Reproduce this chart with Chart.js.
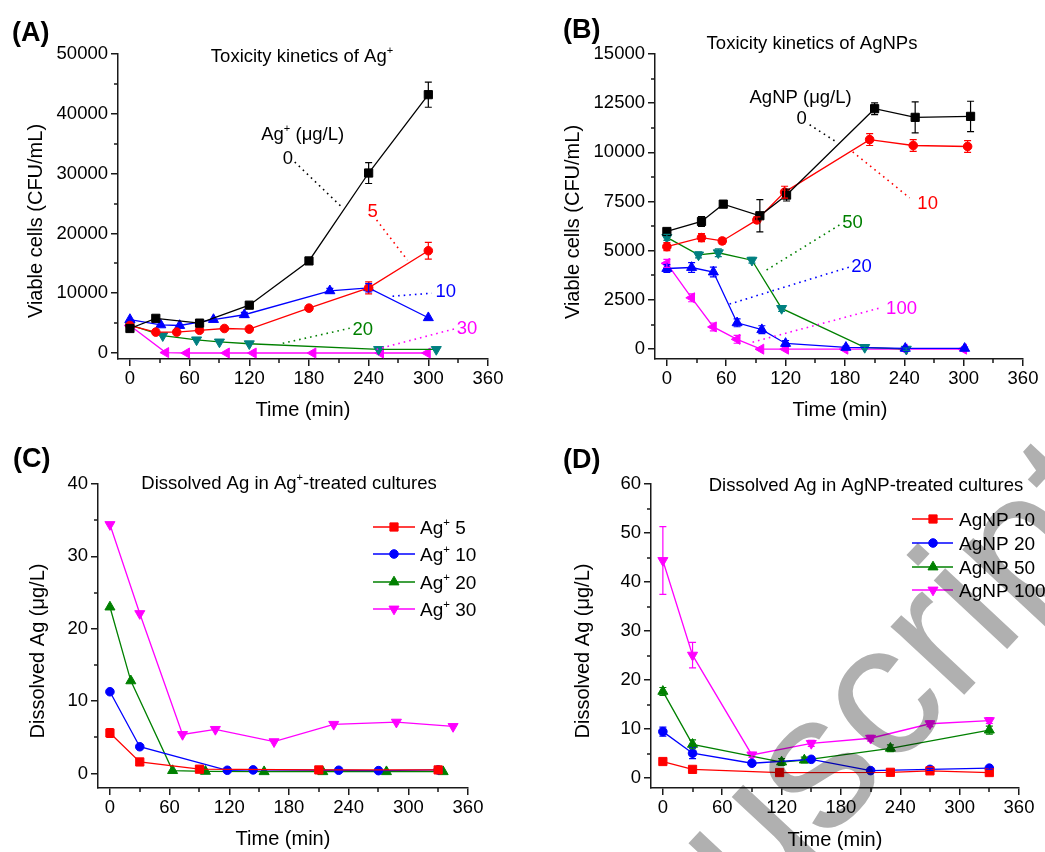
<!DOCTYPE html>
<html><head><meta charset="utf-8">
<script src="https://cdn.jsdelivr.net/npm/chart.js@4/dist/chart.umd.min.js"></script>
<style>
html,body{margin:0;padding:0;background:#fff;width:1045px;height:852px;overflow:hidden;position:relative;}
canvas{position:absolute;}
#wm{left:0;top:0;pointer-events:none;mix-blend-mode:multiply;z-index:5;}
</style></head><body>
<canvas id="cA" width="522" height="426" style="left:0;top:0"></canvas>
<canvas id="cB" width="523" height="426" style="left:522px;top:0"></canvas>
<canvas id="cC" width="522" height="426" style="left:0;top:426px"></canvas>
<canvas id="cD" width="523" height="426" style="left:522px;top:426px"></canvas>
<canvas id="wm" width="1045" height="852"></canvas>
<script>
// ---------------- DATA ----------------
const timeTicks = [0,60,120,180,240,300,360];
const timeMinor = [30,90,150,210,270,330];
const aTicks = [0,10000,20000,30000,40000,50000];
const aMinor = [5000,15000,25000,35000,45000];
const bTicks = [0,2500,5000,7500,10000,12500,15000];
const bMinor = [1250,3750,6250,8750,11250,13750];
const cTicks = [0,10,20,30,40];
const cMinor = [5,15,25,35];
const dTicks = [0,10,20,30,40,50,60];
const dMinor = [5,15,25,35,45,55];

// (A) Toxicity kinetics of Ag+ : viable cells (CFU/mL)
const aTime0  = [0,26,70,120,180,240,300];
const aCells0 = [4100,5800,5000,8000,15400,30100,43200];
const aErr0   = [250,200,200,300,300,1750,2100];
const aTime5  = [0,26,47,70,95,120,180,240,300];
const aCells5 = [4600,3500,3500,3800,4100,4000,7500,10900,17100];
const aErr5   = [0,0,0,0,0,0,0,1000,1400];
const aTime10 = [0,31,50,84,115,201,240,300];
const aCells10= [5600,4700,4600,5600,6400,10400,10900,5900];
const aErr10  = [0,0,0,0,400,400,700,0];
const aTime20 = [0,33,67,90,120,250,308];
const aCells20= [4700,2900,2200,1850,1550,600,600];
const aTime30 = [0,36,57,97,124,184,252,299];
const aCells30= [4600,70,0,0,0,0,0,0];

// (B) Toxicity kinetics of AgNPs : viable cells (CFU/mL)
const bTime0  = [0,35,57,94,121,210,251,307];
const bCells0 = [5980,6490,7370,6780,7830,12220,11780,11830];
const bErr0   = [150,250,150,820,300,300,790,770];
const bTime10 = [0,35,56,91,119,205,249,304];
const bCells10= [5210,5670,5500,6570,7980,10650,10350,10300];
const bErr10  = [200,200,150,150,300,300,300,300];
const bTime20 = [0,25,47,71,96,120,181,241,301];
const bCells20= [4100,4150,3920,1340,990,290,90,40,40];
const bErr20  = [200,250,250,200,200,150,60,60,60];
const bTime50 = [0,32,52,86,116,200,242];
const bCells50= [5680,4790,4900,4520,2070,90,0];
const bErr50  = [150,150,200,150,150,60,60];
const bTime100  = [0,25,47,71,95,120,180,240,300];
const bCells100 = [4360,2610,1130,500,0,0,0,0,0];
const bErr100   = [200,200,200,200,0,0,0,0,0];

// (C) Dissolved Ag in Ag+-treated cultures (µg/L)
const cTime5  = [0,30,90,210,330];
const cAg5    = [5.6,1.6,0.6,0.5,0.5];
const cErr5   = [0.6,0.3,0,0,0];
const cTime10 = [0,30,118,144,230,270,330];
const cAg10   = [11.3,3.7,0.45,0.5,0.45,0.4,0.5];
const cTime20 = [0,21,63,96,155,214,278,335];
const cAg20   = [23.0,12.8,0.4,0.3,0.25,0.25,0.25,0.25];
const cTime30 = [0,30,73,106,165,225,288,345];
const cAg30   = [34.4,22.1,5.4,6.1,4.4,6.8,7.1,6.5];

// (D) Dissolved Ag in AgNP-treated cultures (µg/L)
const dTime10 = [0,30,118,230,270,330];
const dAg10   = [3.4,1.8,1.15,1.2,1.5,1.15];
const dTime20 = [0,30,90,150,210,270,330];
const dAg20   = [9.5,5.1,3.05,3.85,1.55,1.8,2.05];
const dErr20  = [0.9,1.1,0.3,0.3,0.2,0.2,0.2];
const dTime50 = [0,30,120,143,230,330];
const dAg50   = [17.7,6.9,3.3,3.7,6.1,9.8];
const dErr50  = [0.8,0.9,0.7,0.6,0.7,0.8];
const dTime100= [0,30,90,150,210,270,330];
const dAg100  = [44.4,25.1,4.75,7.1,8.15,11.1,11.75];
const dErr100 = [6.9,2.6,0.5,0.6,0.6,0.6,0.6];

// ---------------- STYLE ----------------
const FONT = '"Liberation Sans", Arial, Helvetica, sans-serif';
const AX = '#1a1a1a';
const RED='#ff0000', BLUE='#0000ff', GREEN='#008000', TEAL='#008080', MAG='#ff00ff', BLK='#000000';
const SQ={s:'rect',r:0,rad:5.8}, CI={s:'circle',r:0,rad:4.3}, UP={s:'triangle',r:0,rad:5.8},
      DN={s:'triangle',r:180,rad:5.8}, LT={s:'triangle',r:-90,rad:5.8};

function ser(label, xs, ys, errs, color, st, lineColor){
  return {label, data: xs.map((x,i)=>({x, y: ys[i]})), errors: errs||null,
    borderColor: lineColor||color, backgroundColor: color,
    pointBackgroundColor: color, pointBorderColor: color, errColor: color,
    pointStyle: st.s, pointRotation: st.r, pointRadius: st.rad, pointHoverRadius: st.rad,
    pointBorderWidth: 1, borderWidth: 1.3, tension: 0, fill: false, mk: st};
}

// rich text: segs = strings, nested array = superscript
function richWidth(ctx, segs, size, bold){
  let w=0;
  segs.forEach(s=>{ const sup=Array.isArray(s); ctx.font=(bold?'bold ':'')+(sup?size*0.6:size)+'px '+FONT; w+=ctx.measureText(sup?s[0]:s).width; });
  return w;
}
function drawRich(ctx, segs, x, y, size, opt){
  opt=opt||{};
  ctx.save();
  ctx.translate(x,y);
  if(opt.rot) ctx.rotate(opt.rot);
  ctx.fillStyle=opt.color||'#000';
  ctx.textBaseline='alphabetic';
  ctx.textAlign='left';
  const w=richWidth(ctx, segs, size, opt.bold);
  let cx = opt.align==='left'?0:(opt.align==='right'?-w:-w/2);
  const base = size*0.36;
  segs.forEach(s=>{
    const sup=Array.isArray(s);
    ctx.font=(opt.bold?'bold ':'')+(sup?size*0.6:size)+'px '+FONT;
    const t=sup?s[0]:s;
    ctx.fillText(t, cx, sup? base-size*0.42 : base);
    cx+=ctx.measureText(t).width;
  });
  ctx.restore();
}
function drawMarker(ctx, st, color, x, y){
  ctx.save(); ctx.fillStyle=color; ctx.strokeStyle=color; ctx.lineWidth=1;
  ctx.translate(x,y); ctx.rotate(st.r*Math.PI/180);
  ctx.beginPath();
  const r=st.rad;
  if(st.s==='rect'){ const h=Math.SQRT1_2*r; ctx.rect(-h,-h,2*h,2*h); }
  else if(st.s==='circle'){ ctx.arc(0,0,r,0,Math.PI*2); }
  else { for(let k=0;k<3;k++){ const a=k*2*Math.PI/3; const px=Math.sin(a)*r, py=-Math.cos(a)*r; k?ctx.lineTo(px,py):ctx.moveTo(px,py);} ctx.closePath(); }
  ctx.fill(); ctx.stroke(); ctx.restore();
}

const errPlugin = {
  id:'errbars',
  afterDatasetsDraw(chart){
    const ctx=chart.ctx, ys=chart.scales.y;
    chart.data.datasets.forEach((ds,i)=>{
      if(!ds.errors) return;
      const meta=chart.getDatasetMeta(i);
      meta.data.forEach((pt,j)=>{
        const e=ds.errors[j]; if(!e) return;
        const v=ds.data[j].y;
        const y1=ys.getPixelForValue(v+e), y2=ys.getPixelForValue(v-e);
        ctx.save(); ctx.strokeStyle=ds.errColor; ctx.lineWidth=1.2;
        ctx.beginPath();
        ctx.moveTo(pt.x,y1); ctx.lineTo(pt.x,y2);
        ctx.moveTo(pt.x-3.5,y1); ctx.lineTo(pt.x+3.5,y1);
        ctx.moveTo(pt.x-3.5,y2); ctx.lineTo(pt.x+3.5,y2);
        ctx.stroke(); ctx.restore();
      });
    });
  }
};

function makeDeco(cfg){
  return {
    id:'deco',
    afterDraw(chart){
      const ctx=chart.ctx, xs=chart.scales.x, ys=chart.scales.y, ca=chart.chartArea;
      const ox=cfg.ox, oy=cfg.oy;
      ctx.save();
      ctx.strokeStyle=AX; ctx.lineWidth=1.5;
      ctx.beginPath();
      cfg.xMinor.forEach(v=>{ const p=Math.round(xs.getPixelForValue(v)); ctx.moveTo(p,ca.bottom); ctx.lineTo(p,ca.bottom+4); });
      cfg.yMinor.forEach(v=>{ const p=Math.round(ys.getPixelForValue(v)); ctx.moveTo(ca.left,p); ctx.lineTo(ca.left-4,p); });
      ctx.stroke();
      cfg.texts.forEach(t=>drawRich(ctx, t.segs, t.x-ox, t.y-oy, t.size, {align:t.align, bold:t.bold, rot:t.rot, color:t.color}));
      (cfg.leaders||[]).forEach(l=>{
        ctx.save(); ctx.strokeStyle=l.c; ctx.lineWidth=1.6; ctx.setLineDash([1.6,4]);
        ctx.beginPath(); ctx.moveTo(xs.getPixelForValue(l.x1), ys.getPixelForValue(l.y1));
        ctx.lineTo(xs.getPixelForValue(l.x2), ys.getPixelForValue(l.y2)); ctx.stroke(); ctx.restore();
      });
      (cfg.notes||[]).forEach(n=>drawRich(ctx, n.segs, xs.getPixelForValue(n.x), ys.getPixelForValue(n.y), n.size||18.5, {color:n.c}));
      if(cfg.legend){
        const L=cfg.legend;
        chart.data.datasets.forEach((ds,i)=>{
          const y=L.ys[i]-oy;
          ctx.save(); ctx.strokeStyle=ds.borderColor; ctx.lineWidth=1.3;
          ctx.beginPath(); ctx.moveTo(L.x1-ox,y); ctx.lineTo(L.x2-ox,y); ctx.stroke(); ctx.restore();
          drawMarker(ctx, ds.mk, ds.pointBackgroundColor, L.mx-ox, y);
          drawRich(ctx, L.labels[i], L.tx-ox, y, L.size, {align:'left'});
        });
      }
      ctx.restore();
    }
  };
}

function axis(ticksArr, min, max, fit, isX){
  return {
    type:'linear', min, max,
    grid:{display:true, drawOnChartArea:false, drawTicks:true, tickLength:7, color:AX, lineWidth:1.5},
    border:{display:true, color:AX, width:1.5},
    ticks:{color:'#000', font:{family:FONT, size:18.5}, padding:isX?2:3, autoSkip:false, maxRotation:0, callback:v=>String(v)},
    afterBuildTicks:s=>{ s.ticks=ticksArr.map(v=>({value:v})); },
    afterFit:s=>{ if(isX) s.height=fit; else s.width=fit; }
  };
}

function build(id, datasets, yTicks, yMinor, yMin, yMax, geom, deco){
  deco.ox=geom.left; deco.oy=geom.top; deco.xMinor=timeMinor; deco.yMinor=yMinor;
  return new Chart(document.getElementById(id), {
    type:'line',
    data:{datasets},
    options:{
      responsive:false, animation:false, devicePixelRatio:1, events:[],
      layout:{padding:{left:0, top:geom.padTop, right:geom.padRight, bottom:0}},
      plugins:{legend:{display:false}, title:{display:false}, tooltip:{enabled:false}},
      scales:{ x:axis(timeTicks,-12,360,geom.xH,true), y:axis(yTicks,yMin,yMax,geom.yW,false) }
    },
    plugins:[errPlugin, makeDeco(deco)]
  });
}

// ---------------- PANEL A ----------------
build('cA', [
  ser('0',aTime0,aCells0,aErr0,BLK,SQ),
  ser('5',aTime5,aCells5,aErr5,RED,CI),
  ser('10',aTime10,aCells10,aErr10,BLUE,UP),
  ser('20',aTime20,aCells20,null,TEAL,DN,GREEN),
  ser('30',aTime30,aCells30,null,MAG,LT)
], aTicks, aMinor, -1000, 50000,
 {left:0, top:0, padTop:54, padRight:34, yW:118, xH:67},
 {texts:[
   {segs:['(A)'], x:12, y:31, size:27, bold:true, align:'left'},
   {segs:['Toxicity kinetics of Ag',['+']], x:302, y:55, size:18.5},
   {segs:['Viable cells (CFU/mL)'], x:35, y:221, size:20, rot:-Math.PI/2},
   {segs:['Time (min)'], x:303, y:409, size:20}
  ],
  notes:[
   {segs:['Ag',['+'],' (μg/L)'], x:173.7, y:36800, c:BLK},
   {segs:['0'], x:158.7, y:32780, c:BLK},
   {segs:['5'], x:244, y:23900, c:RED},
   {segs:['10'], x:317.6, y:10500, c:BLUE},
   {segs:['20'], x:234, y:4140, c:GREEN},
   {segs:['30'], x:339, y:4300, c:MAG}
  ],
  leaders:[
   {x1:165.7,y1:31940,x2:214,y2:24240,c:BLK},
   {x1:248,y1:22230,x2:279,y2:15530,c:RED},
   {x1:264,y1:9500,x2:303.5,y2:10000,c:BLUE},
   {x1:153.6,y1:1626,x2:221,y2:4140,c:GREEN},
   {x1:248,y1:620,x2:328.6,y2:4140,c:MAG}
  ]});

// ---------------- PANEL B ----------------
build('cB', [
  ser('0',bTime0,bCells0,bErr0,BLK,SQ),
  ser('10',bTime10,bCells10,bErr10,RED,CI),
  ser('20',bTime20,bCells20,bErr20,BLUE,UP),
  ser('50',bTime50,bCells50,bErr50,TEAL,DN,GREEN),
  ser('100',bTime100,bCells100,bErr100,MAG,LT)
], bTicks, bMinor, -500, 15000,
 {left:522, top:0, padTop:54, padRight:22, yW:133, xH:67},
 {texts:[
   {segs:['(B)'], x:563, y:28, size:27, bold:true, align:'left'},
   {segs:['Toxicity kinetics of AgNPs'], x:812, y:42, size:18.5},
   {segs:['Viable cells (CFU/mL)'], x:572, y:222, size:20, rot:-Math.PI/2},
   {segs:['Time (min)'], x:840, y:409, size:20}
  ],
  notes:[
   {segs:['AgNP (μg/L)'], x:135.2, y:12830, c:BLK},
   {segs:['0'], x:136.2, y:11760, c:BLK},
   {segs:['10'], x:263.6, y:7485, c:RED},
   {segs:['50'], x:187.7, y:6517, c:GREEN},
   {segs:['20'], x:196.8, y:4277, c:BLUE},
   {segs:['100'], x:237.2, y:2138, c:MAG}
  ],
  leaders:[
   {x1:144.3,y1:11405,x2:172.6,y2:10490,c:BLK},
   {x1:187.8,y1:10030,x2:245.4,y2:7690,c:RED},
   {x1:100.8,y1:4022,x2:174.6,y2:6314,c:GREEN},
   {x1:63.4,y1:2291,x2:184.7,y2:4175,c:BLUE},
   {x1:86.6,y1:356,x2:215,y2:2087,c:MAG}
  ]});

// ---------------- PANEL C ----------------
build('cC', [
  ser('Ag+ 5',cTime5,cAg5,cErr5,RED,SQ),
  ser('Ag+ 10',cTime10,cAg10,null,BLUE,CI),
  ser('Ag+ 20',cTime20,cAg20,null,GREEN,UP),
  ser('Ag+ 30',cTime30,cAg30,null,MAG,DN)
], cTicks, cMinor, -2, 40,
 {left:0, top:426, padTop:58, padRight:54, yW:98, xH:64},
 {texts:[
   {segs:['(C)'], x:13, y:457, size:27, bold:true, align:'left'},
   {segs:['Dissolved Ag in Ag',['+'],'-treated cultures'], x:289, y:482, size:18.5},
   {segs:['Dissolved Ag (μg/L)'], x:37, y:651, size:20, rot:-Math.PI/2},
   {segs:['Time (min)'], x:283, y:838, size:20}
  ],
  legend:{x1:373, x2:415, mx:394, tx:420, ys:[527,554,582,609], size:19,
    labels:[['Ag',['+'],' 5'],['Ag',['+'],' 10'],['Ag',['+'],' 20'],['Ag',['+'],' 30']]}
 });

// ---------------- PANEL D ----------------
build('cD', [
  ser('AgNP 10',dTime10,dAg10,null,RED,SQ),
  ser('AgNP 20',dTime20,dAg20,dErr20,BLUE,CI),
  ser('AgNP 50',dTime50,dAg50,dErr50,GREEN,UP),
  ser('AgNP 100',dTime100,dAg100,dErr100,MAG,DN)
], dTicks, dMinor, -2, 60,
 {left:522, top:426, padTop:58, padRight:26, yW:129, xH:64},
 {texts:[
   {segs:['(D)'], x:563, y:458, size:27, bold:true, align:'left'},
   {segs:['Dissolved Ag in AgNP-treated cultures'], x:866, y:484, size:18.5},
   {segs:['Dissolved Ag (μg/L)'], x:582, y:651, size:20, rot:-Math.PI/2},
   {segs:['Time (min)'], x:835, y:839, size:20}
  ],
  legend:{x1:912, x2:953, mx:933, tx:959, ys:[519,543,567,590], size:19,
    labels:[['AgNP 10'],['AgNP 20'],['AgNP 50'],['AgNP 100']]}
 });

// ---------------- WATERMARK ----------------
(function(){
  const c=document.getElementById('wm').getContext('2d');
  const fs=190;
  c.font=fs+'px '+FONT; c.fillStyle='#b0b0b0';
  const txt='Accepted Manuscript', pre='Accepted Manu';
  const w1=c.measureText(pre).width, ws=c.measureText('s').width;
  c.translate(822,775); c.rotate(-47*Math.PI/180);
  c.fillText(txt, -(w1+ws/2), 0.519*fs/2);
})();
</script>
</body></html>
